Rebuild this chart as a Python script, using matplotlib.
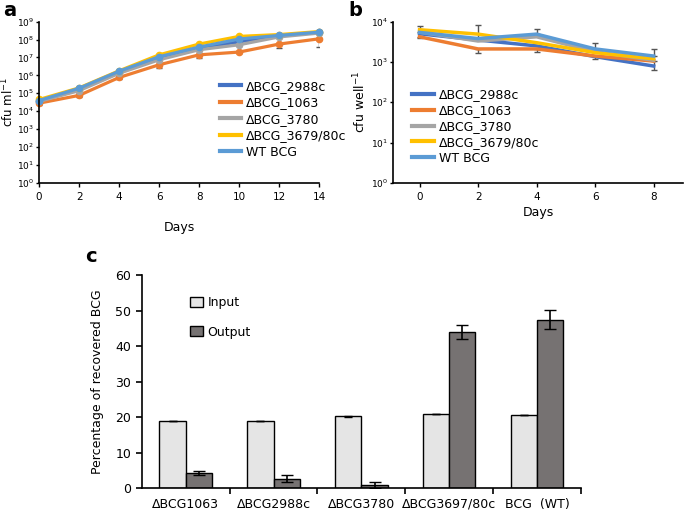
import numpy as np
import matplotlib
matplotlib.use("Agg")
from matplotlib import pyplot as plt
from matplotlib.lines import Line2D

# ---- data -----------------------------------------------------------------
strains = ["\u0394BCG_2988c", "\u0394BCG_1063", "\u0394BCG_3780",
           "\u0394BCG_3679/80c", "WT BCG"]
colors = ["#4472C4", "#ED7D31", "#A5A5A5", "#FFC000", "#5B9BD5"]

# panel a: growth in broth (cfu/ml)
days_a = [0, 2, 4, 6, 8, 10, 12, 14]
a_2988c = [3.8e4, 1.7e5, 1.5e6, 1.0e7, 3.3e7, 7.5e7, 1.6e8, 2.5e8]
a_1063 = [2.8e4, 7.6e4, 7.6e5, 3.9e6, 1.4e7, 2.0e7, 5.6e7, 1.1e8]
a_3780 = [3.5e4, 1.4e5, 1.3e6, 7.4e6, 2.7e7, 5.1e7, 1.4e8, 2.3e8]
a_3679 = [4.5e4, 2.0e5, 1.8e6, 1.4e7, 5.6e7, 1.5e8, 1.9e8, 2.8e8]
a_wt = [3.9e4, 1.9e5, 1.7e6, 1.1e7, 3.8e7, 1.07e8, 1.7e8, 2.6e8]
a_1063_low = [2.2e4, 6.5e4, 6.5e5, 2.5e6, 0.93e7, 1.8e7, 3.3e7, 4.0e7]

# panel b: survival in macrophages (cfu/well)
days_b = [0, 2, 4, 6, 8]
b_2988c = [5.0e3, 3.5e3, 2.5e3, 1.35e3, 7.9e2]
b_1063 = [4.2e3, 2.1e3, 2.1e3, 1.4e3, 1.05e3]
b_3780 = [5.5e3, 3.3e3, 4.2e3, 1.8e3, 1.1e3]
b_3679 = [6.3e3, 4.9e3, 3.0e3, 1.7e3, 1.2e3]
b_wt = [5.4e3, 3.8e3, 4.9e3, 2.1e3, 1.4e3]
b_err_hi = [7.9e3, 8.2e3, 6.5e3, 3.0e3, 2.1e3]
b_err_lo = [3.9e3, 1.7e3, 1.8e3, 1.2e3, 6.3e2]

# panel c: competition assay
groups = ["\u0394BCG1063", "\u0394BCG2988c", "\u0394BCG3780",
          "\u0394BCG3697/80c", "BCG  (WT)"]
c_input = [18.9, 18.9, 20.2, 20.9, 20.6]
c_input_err = [0.1, 0.1, 0.1, 0.1, 0.1]
c_output = [4.3, 2.7, 1.0, 44.0, 47.4]
c_output_err = [0.6, 0.9, 0.8, 2.0, 2.7]

series_a = [a_2988c, a_1063, a_3780, a_3679, a_wt]
series_b = [b_2988c, b_1063, b_3780, b_3679, b_wt]

plt.rcParams["font.family"] = ["DejaVu Sans"]
fig = plt.figure(figsize=(6.85, 5.15), dpi=100)

ERRC = "#555555"


def style_log_axis(ax):
    ax.set_yscale("log")
    ax.spines["top"].set_visible(False)
    ax.spines["right"].set_visible(False)
    ax.spines["left"].set_linewidth(1.2)
    ax.spines["bottom"].set_linewidth(1.2)
    ax.yaxis.set_minor_locator(matplotlib.ticker.NullLocator())
    ax.tick_params(axis="x", labelsize=7.5, direction="out", length=3, width=1)
    ax.tick_params(axis="y", labelsize=6.5, direction="out", length=2.5, width=1, pad=1.2)


def line_handles():
    return [Line2D([], [], color=c, lw=3) for c in colors]


# ---- panel a ---------------------------------------------------------------
ax1 = fig.add_axes([0.057, 0.645, 0.409, 0.313])
for vals, col, lbl in zip(series_a, colors, strains):
    ax1.plot(days_a, vals, "-o", color=col, lw=2.3, ms=4.5, label=lbl, clip_on=False)
lo = np.array(a_1063) - np.array(a_1063_low)
ax1.errorbar(days_a, a_1063, yerr=[lo, np.zeros(len(lo))], fmt="none",
             ecolor=ERRC, elinewidth=1, capsize=2, zorder=1)
style_log_axis(ax1)
ax1.set_ylim(1, 1e9)
ax1.set_yticks([10.0 ** k for k in range(10)])
ax1.set_yticklabels(["$10^{%d}$" % k for k in range(10)])
ax1.set_xlim(0, 14)
ax1.set_xticks(days_a)
ax1.set_xlabel("Days", fontsize=9, labelpad=14)
ax1.set_ylabel("cfu ml$^{-1}$", fontsize=8.5)
ax1.yaxis.set_label_coords(-0.082, 0.5)
ax1.legend(line_handles(), strains, loc="upper left", bbox_to_anchor=(0.646, 0.64),
           frameon=False, fontsize=9, handlelength=1.7, handletextpad=0.35,
           labelspacing=0.28, borderaxespad=0, borderpad=0)

# ---- panel b ---------------------------------------------------------------
ax2 = fig.add_axes([0.574, 0.645, 0.423, 0.313])
for vals, col, lbl in zip(series_b, colors, strains):
    ax2.plot(days_b, vals, "-", color=col, lw=2.5, label=lbl)
ax2.errorbar(days_b, b_wt,
             yerr=[np.zeros(5), np.array(b_err_hi) - np.array(b_wt)],
             fmt="none", ecolor=ERRC, elinewidth=1, capsize=2, zorder=1)
ax2.errorbar(days_b, b_1063,
             yerr=[np.array(b_1063) - np.array(b_err_lo), np.zeros(5)],
             fmt="none", ecolor=ERRC, elinewidth=1, capsize=2, zorder=1)
style_log_axis(ax2)
ax2.set_ylim(1, 1e4)
ax2.set_yticks([10.0 ** k for k in range(5)])
ax2.set_yticklabels(["$10^{%d}$" % k for k in range(5)])
ax2.set_xlim(-0.9, 9.0)
ax2.set_xticks(days_b)
ax2.set_xlabel("Days", fontsize=9, labelpad=3)
ax2.set_ylabel("cfu well$^{-1}$", fontsize=9, labelpad=2)
ax2.legend(line_handles(), strains, loc="upper left", bbox_to_anchor=(0.066, 0.585),
           frameon=False, fontsize=9, handlelength=1.7, handletextpad=0.45,
           labelspacing=0.22, borderaxespad=0, borderpad=0)

# ---- panel c ---------------------------------------------------------------
ax3 = fig.add_axes([0.207, 0.052, 0.641, 0.414])
x = np.arange(len(groups)) + 0.5
w = 0.3
ax3.bar(x - w / 2, c_input, w, yerr=c_input_err, color="#E5E5E5",
        edgecolor="black", linewidth=1, label="Input",
        error_kw=dict(ecolor="black", elinewidth=1, capsize=3))
ax3.bar(x + w / 2, c_output, w, yerr=c_output_err, color="#767272",
        edgecolor="black", linewidth=1, label="Output",
        error_kw=dict(ecolor="black", elinewidth=1.2, capsize=4))
ax3.set_xlim(0, len(groups))
ax3.set_ylim(0, 60)
ax3.set_yticks(range(0, 61, 10))
ax3.set_xticks(np.arange(1, len(groups) + 1))
ax3.set_xticklabels([])
ax3.set_xticks(x, minor=True)
ax3.set_xticklabels(groups, minor=True)
ax3.tick_params(axis="x", which="minor", length=0, labelsize=9, pad=7)
ax3.tick_params(axis="x", which="major", length=4, width=1.2, direction="out")
ax3.tick_params(axis="y", labelsize=9, length=4, width=1.2, direction="out")
for s in ("top", "right"):
    ax3.spines[s].set_visible(False)
ax3.spines["left"].set_linewidth(1.2)
ax3.spines["bottom"].set_linewidth(1.2)
ax3.set_ylabel("Percentage of recovered BCG", fontsize=9, labelpad=8)
ax3.legend(loc="upper left", bbox_to_anchor=(0.11, 0.9), frameon=False,
           fontsize=9, handlelength=1.0, handleheight=0.9, handletextpad=0.4,
           labelspacing=1.3, borderaxespad=0, borderpad=0)

# ---- panel letters ---------------------------------------------------------
fig.text(0.004, 0.998, "a", fontsize=14, fontweight="bold", va="top")
fig.text(0.508, 0.998, "b", fontsize=14, fontweight="bold", va="top")
fig.text(0.125, 0.52, "c", fontsize=14, fontweight="bold", va="top")

fig.savefig("out.png", dpi=100)
